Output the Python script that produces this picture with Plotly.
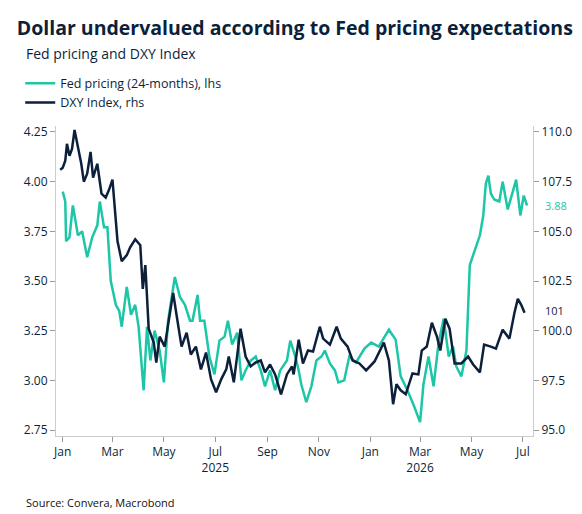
import pandas as pd
import plotly.graph_objects as go

fed_days = [0,3,4,8,12,18,23,29,35,41,44,49,53,57,63,67,70,76,81,86,90,96,100,104,109,115,120,125,133,139,145,151,154,160,163,168,174,180,186,192,196,201,207,212,217,223,229,235,240,246,252,258,266,270,276,280,
            283,289,295,301,307,311,317,323,327,334,340,348,358,366,375,387,395,401,409,416,424,428,434,440,446,452,458,463,467,473,479,483,487,491,495,499,502,505,508,512,518,522,528,534,538,543,547,551]
fed_vals = [3.95,3.90,3.70,3.72,3.88,3.73,3.75,3.62,3.72,3.78,3.90,3.77,3.77,3.50,3.38,3.35,3.27,3.47,3.33,3.38,3.27,2.95,3.27,3.10,3.25,3.15,2.99,3.30,3.52,3.42,3.38,3.30,3.30,3.43,3.30,3.30,3.12,3.03,3.20,3.22,3.30,3.18,3.24,3.00,3.05,3.10,3.12,3.05,2.97,3.05,2.95,3.05,3.10,3.20,3.12,3.05,
            2.98,2.89,2.97,3.10,3.12,3.15,3.085,3.05,2.99,3.00,3.12,3.09,3.16,3.19,3.17,3.255,3.205,3.02,2.95,2.88,2.79,2.98,3.12,2.97,3.19,3.31,3.12,3.17,3.07,3.02,3.15,3.58,3.63,3.68,3.73,3.83,3.99,4.03,3.94,3.91,3.90,4.00,3.86,3.95,4.01,3.83,3.93,3.88]

dxy_days = [-3,0,3,5,8,11,14,18,22,25,29,33,36,41,46,51,55,59,65,70,76,80,86,92,95,98,102,108,111,115,121,125,131,135,141,147,152,158,164,170,176,182,188,194,197,203,211,217,223,229,235,240,246,252,259,266,272,
            274,280,285,291,297,305,309,317,325,330,338,344,352,360,370,381,387,392,396,401,407,415,422,426,432,438,444,448,454,459,465,473,481,487,495,500,508,514,522,530,536,540,544,548]
dxy_vals = [108.1,108.2,108.55,109.4,108.8,109.15,110.1,109.3,108.4,107.5,107.9,109.0,107.7,108.4,106.9,106.7,107.1,107.6,104.5,103.5,103.8,104.2,104.6,104.3,102.1,103.3,100.1,99.4,98.4,99.7,99.2,100.3,101.9,100.8,99.2,99.9,98.8,99.2,98.05,98.9,97.55,96.9,97.55,98.05,98.7,97.4,100.1,98.7,98.2,98.4,98.5,97.9,98.3,97.8,96.8,97.8,98.2,
            97.8,99.55,98.35,99.0,98.95,100.2,99.6,99.3,100.2,99.6,99.2,98.5,98.35,98.0,98.45,99.4,98.5,96.3,97.3,97.0,96.8,97.85,97.8,99.0,99.2,100.4,99.7,99.0,100.6,100.1,98.35,98.35,98.7,98.3,97.9,99.3,99.2,99.1,100.05,99.6,100.9,101.6,101.3,100.9]

tick_dates = ["2025-01-01","2025-03-01","2025-05-01","2025-07-01","2025-09-01","2025-11-01","2026-01-01","2026-03-01","2026-05-01","2026-07-01"]
tick_text = ["Jan<br> ","Mar<br> ","May<br> ","Jul<br>2025","Sep<br> ","Nov<br> ","Jan<br> ","Mar<br>2026","May<br> ","Jul<br> "]

base = pd.Timestamp("2025-01-01")
fed_x = base + pd.to_timedelta(fed_days, unit="D")
dxy_x = base + pd.to_timedelta(dxy_days, unit="D")

TEAL = "#1cc6a6"
NAVY = "#0c1f3b"

fig = go.Figure()
fig.add_trace(go.Scatter(x=fed_x, y=fed_vals, name="Fed pricing (24-months), lhs",
                         line=dict(color=TEAL, width=2.5), mode="lines"))
fig.add_trace(go.Scatter(x=dxy_x, y=dxy_vals, name="DXY Index, rhs", yaxis="y2",
                         line=dict(color=NAVY, width=2.5), mode="lines"))

fig.add_annotation(x=1.02, xref="paper", xanchor="left", y=fed_vals[-1], yref="y",
                   text=f"{fed_vals[-1]:.2f}", showarrow=False, font=dict(color=TEAL, size=11))
fig.add_annotation(x=1.02, xref="paper", xanchor="left", y=101, yref="y2",
                   text="101", showarrow=False, font=dict(color=NAVY, size=11))

fig.update_layout(
    width=582, height=514,
    font=dict(family="Open Sans", color=NAVY, size=12),
    paper_bgcolor="white", plot_bgcolor="white",
    margin=dict(l=43, r=57, t=118, b=86),
    title=dict(text="<b>Dollar undervalued according to Fed pricing expectations</b>",
               x=0.015, xanchor="left", y=0.975, yanchor="top", font=dict(size=19.5, color=NAVY)),
    legend=dict(x=-0.075, xanchor="left", y=1.185, yanchor="top",
                font=dict(size=12.5), tracegroupgap=0, itemwidth=30, bgcolor="rgba(0,0,0,0)"),
    xaxis=dict(range=["2024-12-24", "2026-07-13"], tickvals=tick_dates, ticktext=tick_text,
               showgrid=False, showline=True, linecolor="#cccccc", ticks="outside",
               tickcolor="#999999", ticklen=5, tickfont=dict(size=12)),
    yaxis=dict(range=[2.72, 4.28], tickvals=[2.75,3.0,3.25,3.5,3.75,4.0,4.25], tickformat=".2f",
               showgrid=False, showline=True, linecolor="#cccccc", ticks="outside",
               tickcolor="#999999", ticklen=5, tickfont=dict(size=12), zeroline=False),
    yaxis2=dict(range=[94.7, 110.3], tickvals=[95,97.5,100,102.5,105,107.5,110], tickformat=".1f",
                overlaying="y", side="right", showgrid=False, showline=True, linecolor="#cccccc",
                ticks="outside", tickcolor="#999999", ticklen=5, tickfont=dict(size=12), zeroline=False),
)
fig.add_annotation(text="Source: Convera, Macrobond", xref="paper", yref="paper",
                   x=-0.068, y=-0.216, xanchor="left", yanchor="middle", showarrow=False,
                   font=dict(size=11, color="#111111"))
fig.add_annotation(text="Fed pricing and DXY Index", xref="paper", yref="paper",
                   x=-0.068, y=1.235, xanchor="left", yanchor="middle", showarrow=False,
                   font=dict(size=14, color=NAVY))
fig.write_html("out.html")
